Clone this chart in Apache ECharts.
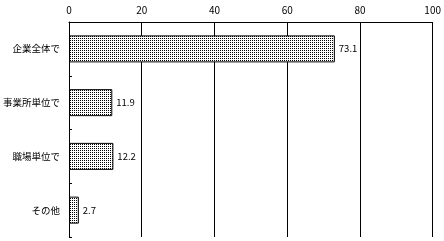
<!DOCTYPE html>
<html><head><meta charset="utf-8">
<script src="https://cdn.jsdelivr.net/npm/echarts@6/dist/echarts.min.js"></script>
<style>html,body{margin:0;padding:0;background:#fff}#c{width:444px;height:241px}</style>
</head><body><div id="c"></div>
<script>
const categories = ['企業全体で', '事業所単位で', '職場単位で', 'その他'];
const values = [73.1, 11.9, 12.2, 2.7];
const tickLabels = [0, 20, 40, 60, 80, 100];

const cv = document.createElement('canvas');
cv.width = 2; cv.height = 2;
const cx = cv.getContext('2d');
cx.fillStyle = '#fff'; cx.fillRect(0, 0, 2, 2);
cx.fillStyle = '#000'; cx.fillRect(0, 0, 1, 1);

const chart = echarts.init(document.getElementById('c'), null, {renderer: 'canvas'});
const font = '"Noto Sans CJK JP", sans-serif';
chart.setOption({
  animation: false,
  grid: {left: 69, right: 10, top: 22, bottom: 4, containLabel: false},
  xAxis: {
    type: 'value', position: 'top', min: tickLabels[0], max: tickLabels[tickLabels.length - 1], interval: 20,
    axisLine: {show: true, lineStyle: {color: '#000', width: 1}},
    axisTick: {show: false},
    axisLabel: {color: '#000', fontSize: 10, fontFamily: font, margin: 7},
    splitLine: {show: true, lineStyle: {color: '#000', width: 1}}
  },
  yAxis: {
    type: 'category', data: categories, inverse: true,
    axisLine: {show: true, lineStyle: {color: '#000', width: 1}},
    axisTick: {show: true, inside: true, length: 3, lineStyle: {color: '#000'}},
    axisLabel: {color: '#000', fontSize: 9.5, fontFamily: font, margin: 9}
  },
  series: [{
    type: 'bar', data: values, barWidth: 27,
    itemStyle: {color: {image: cv, repeat: 'repeat'}, borderColor: '#000', borderWidth: 1},
    label: {show: true, position: 'right', distance: 4, color: '#000', fontSize: 9.5, fontFamily: font,
      formatter: p => p.value.toFixed(1)}
  }]
});
</script></body></html>
